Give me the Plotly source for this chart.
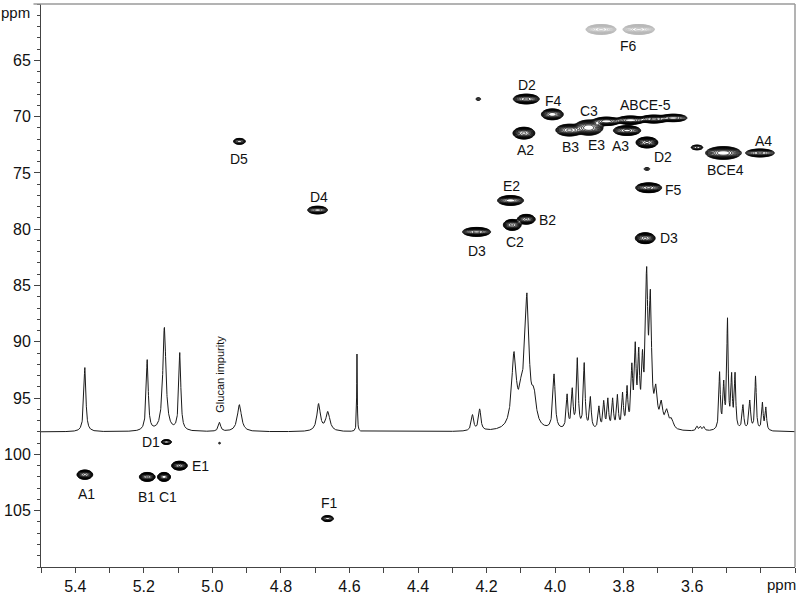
import numpy as np
import plotly.graph_objects as go

# ---------------- data ----------------
# 1D proton spectrum: peak positions (ppm), heights (in y-axis ppm units), half widths (ppm)
spec_ppm = [5.372, 5.190, 5.140, 5.095, 4.979, 4.921, 4.690, 4.663, 4.578,
            4.241, 4.220, 4.120, 4.098, 4.082, 4.062, 4.003,
            3.965, 3.950, 3.935, 3.915, 3.897, 3.872, 3.858, 3.846, 3.832, 3.818,
            3.803, 3.790, 3.776, 3.766, 3.756, 3.745, 3.733, 3.722, 3.706, 3.690,
            3.674, 3.660, 3.586, 3.576, 3.566,
            3.520, 3.508, 3.497, 3.485, 3.475, 3.452, 3.432, 3.415, 3.395, 3.385]
spec_h = [5.7, 6.3, 9.2, 6.9, 0.8, 2.4, 2.4, 1.7, 6.9,
          1.4, 1.9, 6.4, 2.5, 11.2, 2.5, 4.9,
          3.0, 3.4, 6.2, 5.8, 2.8, 2.0, 2.4, 2.6, 2.6, 2.9,
          3.0, 3.4, 5.0, 6.6, 5.9, 5.0, 12.8, 10.6, 3.0, 2.0,
          1.5, 0.8, 0.4, 0.35, 0.35,
          5.0, 3.8, 9.6, 4.5, 4.8, 2.2, 2.6, 4.8, 2.4, 2.0]
spec_w = [0.0035, 0.0035, 0.0055, 0.0035, 0.004, 0.007, 0.006, 0.007, 0.0010,
          0.004, 0.004, 0.008, 0.008, 0.007, 0.008, 0.004,
          0.003, 0.003, 0.003, 0.003, 0.003, 0.003, 0.0028, 0.0028, 0.0028, 0.0028,
          0.0028, 0.0028, 0.003, 0.003, 0.003, 0.003, 0.004, 0.004, 0.005, 0.005,
          0.006, 0.006, 0.003, 0.003, 0.003,
          0.0025, 0.0025, 0.0025, 0.0025, 0.0025, 0.003, 0.003, 0.0025, 0.0025, 0.0025]
spec_baseline = 98.0

# 2D HSQC cross peaks: 1H ppm, 13C ppm, outer-contour half widths (ppm), intensity
pk_h  = [5.372, 5.190, 5.141, 5.096, 5.134, 4.979, 4.664, 4.921, 4.693, 4.224,
         4.084, 4.008, 4.091, 3.958, 3.902, 3.850, 3.780, 3.712, 3.655,
         3.790, 3.732, 3.732, 3.586, 3.509, 3.402, 3.727, 3.737,
         4.130, 4.084, 4.125, 4.229]
pk_c  = [101.8, 102.0, 102.0, 101.0, 98.9, 99.0, 105.7, 72.2, 78.3, 68.44,
         68.44, 69.8, 71.47, 71.2, 70.98, 70.42, 70.32, 70.22, 70.12,
         71.24, 72.3, 74.65, 72.74, 73.23, 73.23, 76.32, 80.8,
         77.45, 79.12, 79.62, 80.24]
pk_wh = [0.023, 0.023, 0.019, 0.023, 0.015, 0.0035, 0.0175, 0.0175, 0.029, 0.0073,
         0.038, 0.032, 0.032, 0.040, 0.042, 0.040, 0.042, 0.042, 0.040,
         0.040, 0.032, 0.0087, 0.0175, 0.052, 0.042, 0.038, 0.029,
         0.038, 0.026, 0.026, 0.041]
pk_wc = [0.42, 0.40, 0.40, 0.40, 0.22, 0.09, 0.27, 0.27, 0.35, 0.13,
         0.44, 0.49, 0.53, 0.53, 0.68, 0.38, 0.38, 0.36, 0.34,
         0.44, 0.49, 0.13, 0.22, 0.57, 0.36, 0.44, 0.49,
         0.44, 0.44, 0.49, 0.40]
pk_amp = [1.0, 1.0, 0.9, 1.0, 0.25, 0.06, 0.3, 0.3, 0.5, 0.08,
          1.0, 0.9, 1.0, 1.0, 1.2, 0.7, 0.7, 0.6, 0.5,
          0.8, 1.0, 0.08, 0.2, 1.2, 0.45, 1.0, 1.0,
          0.9, 1.0, 1.0, 0.8]

# F6 (grey contours)
f6_h = [3.866, 3.756]
f6_c = [62.26, 62.26]
f6_wh = [0.044, 0.046]
f6_wc = [0.44, 0.44]
f6_amp = [1.0, 1.0]

# labels: text, 1H ppm, 13C ppm
lab_text = ["A1", "B1", "C1", "E1", "D1", "F1", "D5", "D4", "D2", "F4", "A2", "B3",
            "C3", "E3", "A3", "ABCE-5", "D2", "BCE4", "A4", "F6", "E2", "B2", "C2",
            "D3", "F5", "D3"]
lab_x = [5.367, 5.192, 5.129, 5.034, 5.180, 4.659, 4.922, 4.688, 4.081, 4.004, 4.086, 3.955,
         3.900, 3.879, 3.810, 3.737, 3.684, 3.504, 3.392, 3.786, 4.128, 4.023, 4.118,
         4.227, 3.654, 3.669]
lab_y = [103.48, 103.75, 103.75, 101.0, 98.92, 104.36, 73.74, 77.12, 67.21, 68.59, 72.94, 72.71,
         69.50, 72.50, 72.65, 68.97, 73.59, 74.71, 72.15, 63.76, 76.18, 79.18, 81.18,
         81.92, 76.54, 80.80]

x_ticks = [5.4, 5.2, 5.0, 4.8, 4.6, 4.4, 4.2, 4.0, 3.8, 3.6]
y_ticks = [65, 70, 75, 80, 85, 90, 95, 100, 105]

# ---------------- computation ----------------
X_RANGE = [5.5, 3.3]
Y_RANGE = [110, 60]
L0 = 0.04
FACTOR = 1.3
SHAPE_P = 1.25   # slightly flat-topped peak profile exponent

xs = np.linspace(3.3, 5.5, 760)
ys = np.linspace(60, 110, 568)
XX, YY = np.meshgrid(xs, ys)


def surface(hs, cs, whs, wcs, amps):
    z = np.zeros_like(XX)
    for h, c, wh, wc, a in zip(hs, cs, whs, wcs, amps):
        lr = np.log(max(a / L0, 1.05))
        r2 = ((XX - h) / wh) ** 2 + ((YY - c) / wc) ** 2
        z += a * np.exp(-lr * r2 ** SHAPE_P)
    return np.log(np.maximum(z, 1e-6)).astype(np.float32)


z_main = surface(pk_h, pk_c, pk_wh, pk_wc, pk_amp)
z_f6 = surface(f6_h, f6_c, f6_wh, f6_wc, f6_amp)

sx = np.linspace(3.3, 5.5, 6000)
sy = np.full_like(sx, spec_baseline)
for p, h, w in zip(spec_ppm, spec_h, spec_w):
    sy -= h * w ** 2 / ((sx - p) ** 2 + w ** 2)

contour_cfg = dict(start=np.log(L0), end=np.log(1.25), size=np.log(FACTOR), coloring="lines")

fig = go.Figure()
fig.add_trace(go.Contour(x=xs, y=ys, z=z_main, contours=contour_cfg,
                         colorscale=[[0, "#000000"], [1, "#000000"]], showscale=False,
                         line=dict(width=0.8), hoverinfo="skip"))
fig.add_trace(go.Contour(x=xs, y=ys, z=z_f6, contours=contour_cfg,
                         colorscale=[[0, "#b8b8b8"], [1, "#b8b8b8"]], showscale=False,
                         line=dict(width=0.8), hoverinfo="skip"))
fig.add_trace(go.Scatter(x=sx, y=sy, mode="lines", line=dict(color="#1a1a1a", width=1),
                         hoverinfo="skip"))

FONT = "Liberation Sans, Arial, sans-serif"
for t, x, y in zip(lab_text, lab_x, lab_y):
    fig.add_annotation(x=x, y=y, text=t, showarrow=False,
                       font=dict(family=FONT, size=14, color="#111"))
fig.add_annotation(x=4.977, y=92.9, text="Glucan impurity", textangle=-90, showarrow=False,
                   font=dict(family=FONT, size=11, color="#111"))
fig.add_annotation(x=3.338, y=-0.012, yref="paper", text="ppm", showarrow=False,
                   yanchor="top", font=dict(family=FONT, size=15, color="#111"))
fig.add_annotation(x=-0.012, y=0.985, xref="paper", yref="paper", text="ppm", showarrow=False,
                   xanchor="right", yanchor="middle", font=dict(family=FONT, size=15, color="#111"))

# frame (top / right grey border)
fig.add_shape(type="line", xref="paper", yref="paper", x0=-0.01, x1=1, y0=1, y1=1,
              line=dict(color="#9a9a9a", width=1.5))
fig.add_shape(type="line", xref="paper", yref="paper", x0=1, x1=1, y0=0, y1=1,
              line=dict(color="#9a9a9a", width=1.5))

fig.update_layout(
    width=800, height=599,
    margin=dict(l=39, r=5, t=4, b=30),
    paper_bgcolor="white", plot_bgcolor="white",
    showlegend=False,
    font=dict(family=FONT, size=16, color="#111"),
    xaxis=dict(range=X_RANGE, tickmode="array", tickvals=x_ticks,
               ticktext=[f"{v:.1f}" for v in x_ticks],
               ticks="outside", ticklen=5, tickcolor="#444", showgrid=False, zeroline=False,
               showline=True, linecolor="#444", linewidth=1,
               tickfont=dict(size=16),
               minor=dict(tickmode="linear", tick0=0, dtick=0.1, ticks="outside",
                          ticklen=5, tickcolor="#444", showgrid=False)),
    yaxis=dict(range=Y_RANGE, tickmode="array", tickvals=y_ticks,
               ticks="outside", ticklen=6, tickcolor="#444", showgrid=False, zeroline=False,
               showline=True, linecolor="#444", linewidth=1,
               tickfont=dict(size=16),
               minor=dict(tickmode="linear", tick0=0, dtick=1, ticks="outside",
                          ticklen=3, tickcolor="#444", showgrid=False)),
)

fig.write_html("out.html", post_script="document.body.style.margin='0px';",
               config={"displayModeBar": False})
